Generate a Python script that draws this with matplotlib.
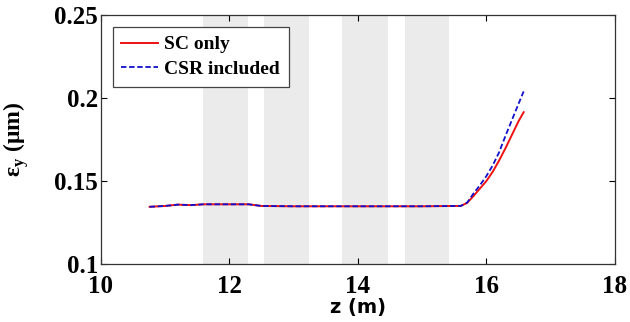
import matplotlib
matplotlib.use('Agg')
import matplotlib.pyplot as plt

# position along the line (m) and vertical emittance (um)
z = [10.76, 11.0, 11.2, 11.4, 11.6, 12.3, 12.5, 13.0, 14.0, 15.0, 15.5,
     15.6, 15.7, 15.8, 15.9, 16.0, 16.1, 16.2, 16.3, 16.4, 16.5, 16.58]
eps_sc = [0.1345, 0.135, 0.1358, 0.1355, 0.136, 0.136, 0.135, 0.1348, 0.1348, 0.1348, 0.135,
          0.135, 0.1368, 0.141, 0.1455, 0.150, 0.1557, 0.1625, 0.170, 0.178, 0.186, 0.1915]
eps_csr = [0.1345, 0.135, 0.1358, 0.1355, 0.136, 0.136, 0.135, 0.1348, 0.1348, 0.1348, 0.135,
           0.135, 0.137, 0.1425, 0.1475, 0.153, 0.1595, 0.1675, 0.1775, 0.187, 0.1965, 0.204]

# shaded bend regions (start, end) in m
bands = [(11.59, 12.29), (12.54, 13.24), (13.76, 14.47), (14.73, 15.42)]

serif = 'Liberation Serif'
plt.rcParams['mathtext.fontset'] = 'custom'
plt.rcParams['mathtext.rm'] = 'Liberation Serif:bold'
plt.rcParams['mathtext.bf'] = 'Liberation Serif:bold'

fig = plt.figure(figsize=(6.3, 3.22), dpi=100)
ax = fig.add_axes([0.160, 0.180, 0.816, 0.773])

for a, b in bands:
    ax.axvspan(a, b, color='#ebebeb', lw=0, zorder=0)

ax.plot(z, eps_sc, color='#ee1111', lw=1.4, label='SC only', zorder=2)
ax.plot(z, eps_csr, color='#1010cc', lw=1.3, ls=(0, (3, 1.5)), label='CSR included', zorder=3)

ax.set_xlim(10, 18)
ax.set_ylim(0.1, 0.25)
ax.set_xticks([10, 12, 14, 16, 18])
ax.set_yticks([0.1, 0.15, 0.2, 0.25])
ax.set_xticklabels(['10', '12', '14', '16', '18'])
ax.set_yticklabels(['0.1', '0.15', '0.2', '0.25'])
ax.tick_params(direction='in', top=True, right=True, length=4, width=0.8, pad=2)
ax.tick_params(axis='x', pad=8)
for lab in ax.get_xticklabels() + ax.get_yticklabels():
    lab.set_fontfamily(serif)
    lab.set_fontweight('bold')
    lab.set_fontsize(18)
for s in ax.spines.values():
    s.set_linewidth(0.9)
    s.set_color('#333333')

ax.set_xlabel('z (m)', fontsize=14, fontweight='bold', labelpad=0)
ax.set_ylabel(r'ε$_\mathbf{y}$ (μm)', fontsize=17, fontweight='bold',
              family=serif, labelpad=17)

leg = ax.legend(loc='upper left', prop={'family': serif, 'weight': 'bold', 'size': 14},
                fancybox=False, edgecolor='#444444', framealpha=1, borderpad=0.45,
                handlelength=1.9, handletextpad=0.3, labelspacing=0.35,
                borderaxespad=0, bbox_to_anchor=(0.023, 0.952))
leg.get_frame().set_linewidth(0.9)

fig.savefig('out.png', dpi=100)
